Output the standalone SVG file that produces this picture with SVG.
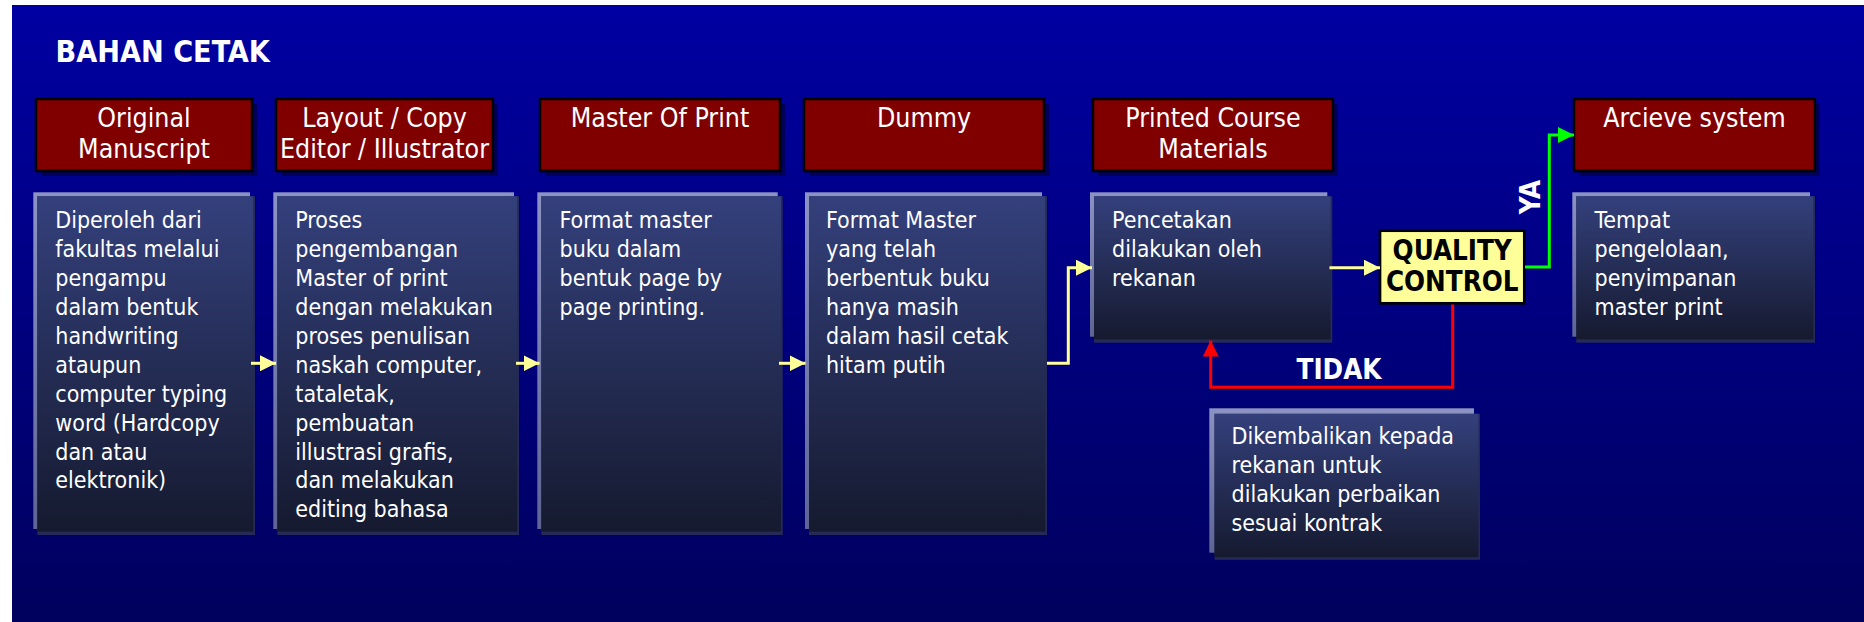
<svg xmlns="http://www.w3.org/2000/svg" width="1864" height="622" viewBox="0 0 1864 622">
<defs>
<linearGradient id="bg" x1="0" y1="0" x2="0" y2="1">
<stop offset="0" stop-color="#0000A2"/>
<stop offset="1" stop-color="#00005E"/>
</linearGradient>
<linearGradient id="body" x1="0" y1="0" x2="0" y2="1">
<stop offset="0" stop-color="#34407C"/>
<stop offset="1" stop-color="#151A2F"/>
</linearGradient>
<linearGradient id="lite" x1="0" y1="0" x2="0" y2="1">
<stop offset="0" stop-color="#8C93C2"/>
<stop offset="1" stop-color="#5E6494"/>
</linearGradient>
<marker id="ay" viewBox="0 0 16 16" refX="16" refY="8" markerWidth="16" markerHeight="16" markerUnits="userSpaceOnUse" orient="auto"><path d="M0,0 L16,8 L0,16 z" fill="#FFFF99"/></marker>
<marker id="ag" viewBox="0 0 16 16" refX="16" refY="8" markerWidth="16" markerHeight="16" markerUnits="userSpaceOnUse" orient="auto"><path d="M0,0 L16,8 L0,16 z" fill="#00FF00"/></marker>
<marker id="ar" viewBox="0 0 16 16" refX="16" refY="8" markerWidth="16" markerHeight="16" markerUnits="userSpaceOnUse" orient="auto"><path d="M0,0 L16,8 L0,16 z" fill="#FF0000"/></marker>
<style>
.hs{fill:#000058}
.hb{fill:#800000;stroke:#000;stroke-width:2.5}
.ht{font-family:'DejaVu Sans Condensed','DejaVu Sans',sans-serif;font-stretch:condensed;font-size:26.5px;fill:#fff;text-anchor:middle}
.lt{fill:url(#lite)}
.dk{fill:#252A56}
.bd{fill:url(#body)}
.bt{font-family:'DejaVu Sans Condensed','DejaVu Sans',sans-serif;font-stretch:condensed;font-size:23px;fill:#fff}
.bold{font-family:'DejaVu Sans Condensed','DejaVu Sans',sans-serif;font-stretch:condensed;font-weight:bold;font-size:27.5px}
.cy{fill:none;stroke:#FFFF99;stroke-width:3;marker-end:url(#ay)}
.cg{fill:none;stroke:#00FF00;stroke-width:3;marker-end:url(#ag)}
.cr{fill:none;stroke:#FF0000;stroke-width:3;marker-end:url(#ar)}
</style>
</defs>
<rect x="0" y="0" width="1864" height="622" fill="#fff"/>
<rect x="12" y="5" width="1852" height="617" fill="url(#bg)"/>
<text x="55.5" y="61.7" class="bold" style="font-size:30.2px" fill="#fff">BAHAN CETAK</text>

<g id="h1"><rect class="hs" x="41" y="104" width="216" height="72"/><rect class="hb" x="36" y="99" width="216" height="72"/><text class="ht" x="144" y="126.7">Original</text><text class="ht" x="144" y="158.3">Manuscript</text></g>
<g id="h2"><rect class="hs" x="281" y="104" width="217" height="72"/><rect class="hb" x="276" y="99" width="217" height="72"/><text class="ht" x="384.5" y="126.7">Layout / Copy</text><text class="ht" x="384.5" y="158.3">Editor / Illustrator</text></g>
<g id="h3"><rect class="hs" x="545" y="104" width="240" height="72"/><rect class="hb" x="540" y="99" width="240" height="72"/><text class="ht" x="660" y="126.7">Master Of Print</text></g>
<g id="h4"><rect class="hs" x="809" y="104" width="240" height="72"/><rect class="hb" x="804" y="99" width="240" height="72"/><text class="ht" x="924" y="126.7">Dummy</text></g>
<g id="h5"><rect class="hs" x="1098" y="104" width="240" height="72"/><rect class="hb" x="1093" y="99" width="240" height="72"/><text class="ht" x="1213" y="126.7">Printed Course</text><text class="ht" x="1213" y="158.3">Materials</text></g>
<g id="h6"><rect class="hs" x="1579" y="104" width="241" height="72"/><rect class="hb" x="1574" y="99" width="241" height="72"/><text class="ht" x="1694.5" y="126.7">Arcieve system</text></g>

<g id="b1"><rect class="lt" x="33.3" y="192.3" width="216.7" height="336.7"/><rect class="dk" x="37.3" y="196.3" width="217.7" height="338.7"/><rect class="bd" x="37.3" y="196.3" width="216" height="335.4"/>
<text class="bt"><tspan x="55.3" y="228.3">Diperoleh dari</tspan><tspan x="55.3" y="257.2">fakultas melalui</tspan><tspan x="55.3" y="286.1">pengampu</tspan><tspan x="55.3" y="315">dalam bentuk</tspan><tspan x="55.3" y="343.9">handwriting</tspan><tspan x="55.3" y="372.8">ataupun</tspan><tspan x="55.3" y="401.7">computer typing</tspan><tspan x="55.3" y="430.6">word (Hardcopy</tspan><tspan x="55.3" y="459.5">dan atau</tspan><tspan x="55.3" y="488.4">elektronik)</tspan></text></g>
<g id="b2"><rect class="lt" x="273.3" y="192.3" width="240.7" height="336.7"/><rect class="dk" x="277.3" y="196.3" width="241.7" height="338.7"/><rect class="bd" x="277.3" y="196.3" width="240" height="335.4"/>
<text class="bt"><tspan x="295.3" y="228.3">Proses</tspan><tspan x="295.3" y="257.2">pengembangan</tspan><tspan x="295.3" y="286.1">Master of print</tspan><tspan x="295.3" y="315">dengan melakukan</tspan><tspan x="295.3" y="343.9">proses penulisan</tspan><tspan x="295.3" y="372.8">naskah computer,</tspan><tspan x="295.3" y="401.7">tataletak,</tspan><tspan x="295.3" y="430.6">pembuatan</tspan><tspan x="295.3" y="459.5">illustrasi grafis,</tspan><tspan x="295.3" y="488.4">dan melakukan</tspan><tspan x="295.3" y="517.3">editing bahasa</tspan></text></g>
<g id="b3"><rect class="lt" x="537.3" y="192.3" width="240.4" height="336.7"/><rect class="dk" x="541.3" y="196.3" width="241.4" height="338.7"/><rect class="bd" x="541.3" y="196.3" width="239.7" height="335.4"/>
<text class="bt"><tspan x="559.5" y="228.3">Format master</tspan><tspan x="559.5" y="257.2">buku dalam</tspan><tspan x="559.5" y="286.1">bentuk page by</tspan><tspan x="559.5" y="315">page printing.</tspan></text></g>
<g id="b4"><rect class="lt" x="805" y="192.3" width="237" height="336.7"/><rect class="dk" x="809" y="196.3" width="238" height="338.7"/><rect class="bd" x="809" y="196.3" width="236.3" height="335.4"/>
<text class="bt"><tspan x="826" y="228.3">Format Master</tspan><tspan x="826" y="257.2">yang telah</tspan><tspan x="826" y="286.1">berbentuk buku</tspan><tspan x="826" y="315">hanya masih</tspan><tspan x="826" y="343.9">dalam hasil cetak</tspan><tspan x="826" y="372.8">hitam putih</tspan></text></g>
<g id="b5"><rect class="lt" x="1090" y="192.3" width="237.3" height="144.4"/><rect class="dk" x="1094" y="196.3" width="238.3" height="146.4"/><rect class="bd" x="1094" y="196.3" width="236.6" height="143.1"/>
<text class="bt"><tspan x="1112" y="228.3">Pencetakan</tspan><tspan x="1112" y="257.2">dilakukan oleh</tspan><tspan x="1112" y="286.1">rekanan</tspan></text></g>
<g id="qc"><rect x="1380" y="230.7" width="144.3" height="72.6" fill="#FFFF99" stroke="#000" stroke-width="2.7"/>
<text class="bold" x="1452.2" y="260" text-anchor="middle" fill="#000">QUALITY</text><text class="bold" x="1452.2" y="290.7" text-anchor="middle" fill="#000">CONTROL</text></g>
<g id="b6"><rect class="lt" x="1572.3" y="192.3" width="237.7" height="144.4"/><rect class="dk" x="1576.3" y="196.3" width="238.7" height="146.4"/><rect class="bd" x="1576.3" y="196.3" width="237" height="143.1"/>
<text class="bt"><tspan x="1594.5" y="228">Tempat</tspan><tspan x="1594.5" y="256.9">pengelolaan,</tspan><tspan x="1594.5" y="285.8">penyimpanan</tspan><tspan x="1594.5" y="314.7">master print</tspan></text></g>
<g id="b7"><rect class="lt" x="1209.3" y="408.3" width="264.7" height="144.4"/><rect class="dk" x="1214.5" y="413.8" width="265.5" height="146"/><rect class="bd" x="1214.5" y="413.8" width="264" height="143.5"/>
<text class="bt"><tspan x="1231.5" y="444.3">Dikembalikan kepada</tspan><tspan x="1231.5" y="473.3">rekanan untuk</tspan><tspan x="1231.5" y="502.3">dilakukan perbaikan</tspan><tspan x="1231.5" y="531.3">sesuai kontrak</tspan></text></g>

<g id="connectors">
<path class="cy" d="M251,363.3 H276"/>
<path class="cy" d="M516,363.3 H539.5"/>
<path class="cy" d="M779,363.3 H805.5"/>
<path class="cy" d="M1047,363.3 H1068.3 V267.7 H1092"/>
<path class="cy" d="M1329.5,267.7 H1380"/>
<path class="cg" d="M1525,267 H1549.3 V135 H1574"/>
<path class="cr" d="M1452.7,304.5 V387.3 H1210.7 V340.5"/>
<text class="bold" x="1339" y="379" text-anchor="middle" fill="#fff">TIDAK</text>
<text class="bold" transform="translate(1540 197) rotate(-90)" x="0" y="0" text-anchor="middle" fill="#fff">YA</text>
</g>
</svg>
